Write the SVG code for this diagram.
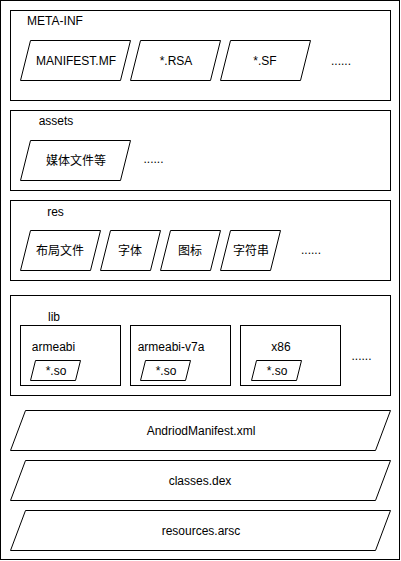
<svg xmlns="http://www.w3.org/2000/svg" width="401" height="561" viewBox="0 0 401 561">
<style>
.box{fill:#fff;stroke:#000;stroke-width:1}
.t{font-family:"Liberation Sans","Noto Sans CJK SC",Arial,sans-serif;font-size:12px;fill:#000;text-anchor:middle}
</style>
<rect x="0.5" y="0.5" width="399" height="559" class="box"/>
<g id="meta-inf">
<rect x="10.5" y="10.5" width="380" height="90" class="box"/>
<text x="55" y="25" class="t">META-INF</text>
<g id="manifest-mf"><polygon points="30.5,40.5 130.5,40.5 120.5,80.5 20.5,80.5" class="box"/><text x="76" y="65" class="t">MANIFEST.MF</text></g>
<g id="rsa"><polygon points="140.5,40.5 220.5,40.5 210.5,80.5 130.5,80.5" class="box"/><text x="176" y="65" class="t">*.RSA</text></g>
<g id="sf"><polygon points="230.5,40.5 310.5,40.5 300.5,80.5 220.5,80.5" class="box"/><text x="265" y="65" class="t">*.SF</text></g>
<text x="341" y="65" class="t">......</text>
</g>
<g id="assets">
<rect x="10.5" y="110.5" width="380" height="80" class="box"/>
<text x="56" y="125" class="t">assets</text>
<g id="media"><polygon points="30.5,140.5 130.5,140.5 120.5,180.5 20.5,180.5" class="box"/><text x="76" y="165" class="t">媒体文件等</text></g>
<text x="153.5" y="163" class="t">......</text>
</g>
<g id="res">
<rect x="10.5" y="200.5" width="380" height="80" class="box"/>
<text x="55.5" y="216" class="t">res</text>
<g id="layout"><polygon points="30.5,230.5 100.5,230.5 90.5,270.5 20.5,270.5" class="box"/><text x="60" y="255" class="t">布局文件</text></g>
<g id="font"><polygon points="110.5,230.5 160.5,230.5 150.5,270.5 100.5,270.5" class="box"/><text x="130" y="255" class="t">字体</text></g>
<g id="icon"><polygon points="170.5,230.5 220.5,230.5 210.5,270.5 160.5,270.5" class="box"/><text x="190" y="255" class="t">图标</text></g>
<g id="string"><polygon points="230.5,230.5 280.5,230.5 270.5,270.5 220.5,270.5" class="box"/><text x="251" y="255" class="t">字符串</text></g>
<text x="311" y="254" class="t">......</text>
</g>
<g id="lib">
<rect x="10.5" y="295.5" width="380" height="100" class="box"/>
<text x="54" y="321" class="t">lib</text>
<g id="armeabi"><rect x="20.5" y="325.5" width="100" height="60" class="box"/><text x="53.5" y="351" class="t">armeabi</text>
<polygon points="35.5,360.5 80.5,360.5 75.5,380.5 30.5,380.5" class="box"/><text x="56" y="375" class="t">*.so</text></g>
<g id="armeabi-v7a"><rect x="130.5" y="325.5" width="100" height="60" class="box"/><text x="171" y="351" class="t">armeabi-v7a</text>
<polygon points="145.5,360.5 190.5,360.5 185.5,380.5 140.5,380.5" class="box"/><text x="166" y="375" class="t">*.so</text></g>
<g id="x86"><rect x="240.5" y="325.5" width="100" height="60" class="box"/><text x="281" y="351" class="t">x86</text>
<polygon points="256.5,360.5 301.5,360.5 296.5,380.5 251.5,380.5" class="box"/><text x="277" y="375" class="t">*.so</text></g>
<text x="361.5" y="359.5" class="t">......</text>
</g>
<g id="androidmanifest"><polygon points="25.5,410.5 390.5,410.5 375.5,450.5 10.5,450.5" class="box"/><text x="201" y="435" class="t">AndriodManifest.xml</text></g>
<g id="classes"><polygon points="25.5,460.5 390.5,460.5 375.5,500.5 10.5,500.5" class="box"/><text x="200" y="485" class="t">classes.dex</text></g>
<g id="resources"><polygon points="25.5,510.5 390.5,510.5 375.5,550.5 10.5,550.5" class="box"/><text x="201" y="535" class="t">resources.arsc</text></g>
<g id="connectors"/>
</svg>
